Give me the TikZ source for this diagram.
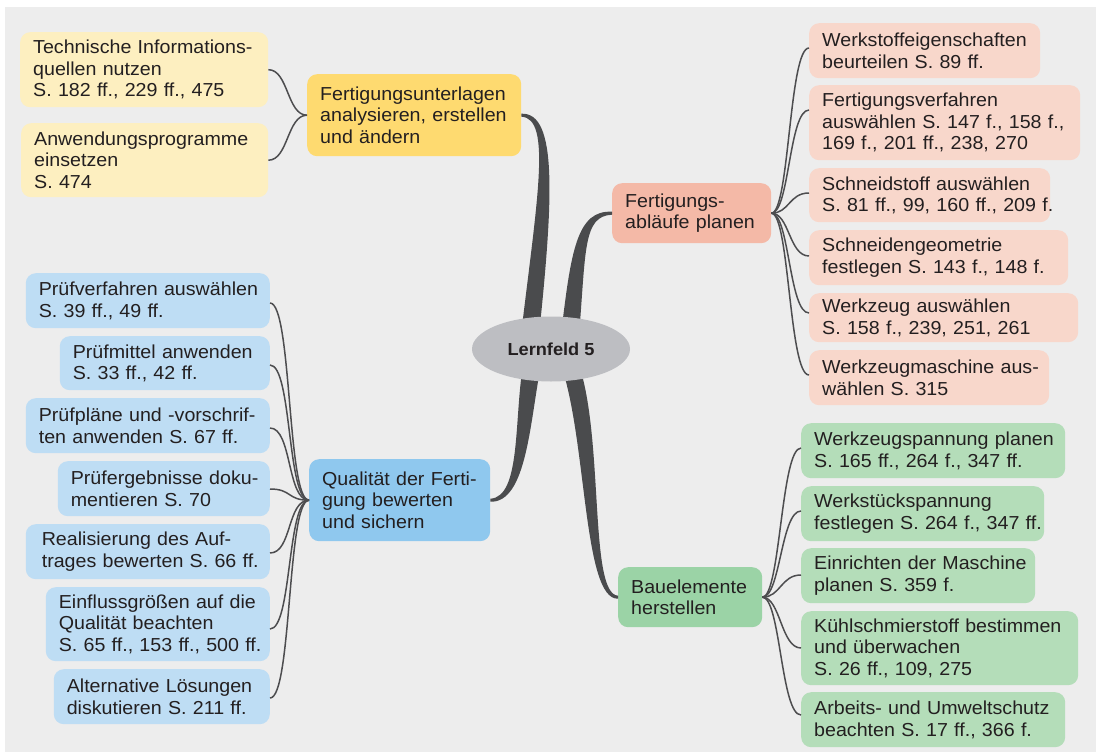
\documentclass[tikz,border=0pt]{standalone}
\usepackage{fontspec}
\setmainfont{Liberation Sans}[FakeStretch=1.045]
\usetikzlibrary{shapes.geometric}
\definecolor{bg}{HTML}{EDEDED}
\definecolor{txt}{HTML}{231F20}
\definecolor{con}{HTML}{4D4D4F}
\definecolor{br}{HTML}{4A4B4D}
\definecolor{ell}{HTML}{BDBEC2}
\definecolor{ylt}{HTML}{FDEFC0}
\definecolor{ymn}{HTML}{FEDA70}
\definecolor{plt}{HTML}{F8D7CB}
\definecolor{pmn}{HTML}{F4B9A7}
\definecolor{blt}{HTML}{BEDDF4}
\definecolor{bmn}{HTML}{8FC8EE}
\definecolor{glt}{HTML}{B4DDB9}
\definecolor{gmn}{HTML}{9BD3A6}
\begin{document}
\begin{tikzpicture}[x=1pt,y=-1pt,
  box/.style={rounded corners=10pt, align=left, inner xsep=13pt, inner ysep=0pt,
    text=txt, font=\fontsize{18.8}{21.5}\selectfont,
    execute at begin node={\hyphenpenalty=10000\exhyphenpenalty=10000}},
  conn/.style={draw=con, line width=1.5pt},
  branch/.style={fill=br}]
\useasboundingbox (0,0) rectangle (1096,755);
\fill[white] (0,0) rectangle (1096,755);
\fill[bg] (5,7) rectangle (1096,752);

% ---------- main nodes ----------
\node[box, fill=ymn, text width=188pt, minimum height=82pt, anchor=north west] (Y0) at (307,74)
  {Fertigungsunterlagen\\analysieren,~erstellen\\und~ändern};
\node[box, fill=pmn, text width=133pt, minimum height=60pt, anchor=north west] (P0) at (612,183)
  {Fertigungs-\\abläufe~planen};
\node[box, fill=bmn, text width=155pt, minimum height=82pt, anchor=north west] (B0) at (309,459)
  {Qualität~der~Ferti-\\gung~bewerten\\und~sichern};
\node[box, fill=gmn, text width=118pt, minimum height=60pt, anchor=north west] (G0) at (618,567)
  {Bauelemente\\herstellen};

% ---------- thick branches ----------
\fill[branch] (521,335) .. controls (537,200) and (552,118) .. ([yshift=-1.5pt]Y0.east)
  -- ([yshift=1.5pt]Y0.east) .. controls (558,112) and (553,200) .. (539,335) -- cycle;
\fill[branch] (561,335) .. controls (571,250) and (577,210) .. ([yshift=1.5pt]P0.west)
  -- ([yshift=-1.5pt]P0.west) .. controls (583,216) and (586,250) .. (579,335) -- cycle;
\fill[branch] (523,365) .. controls (514,420) and (521,497) .. ([yshift=1.5pt]B0.east)
  -- ([yshift=-1.5pt]B0.east) .. controls (527,503) and (530,420) .. (541,365) -- cycle;
\fill[branch] (561,365) .. controls (587,440) and (583,600) .. ([yshift=-1.5pt]G0.west)
  -- ([yshift=1.5pt]G0.west) .. controls (589,594) and (604,440) .. (579,365) -- cycle;

\node[ellipse, fill=ell, minimum width=158pt, minimum height=65pt, inner sep=0pt,
  text=txt, font=\fontsize{17.4}{20}\selectfont\bfseries] (L) at (551,349) {Lernfeld 5};

% ---------- yellow ----------
\node[box, fill=ylt, text width=222pt, minimum height=75pt, anchor=north west] (Y1) at (20,32)
  {Technische~Informations-\\quellen~nutzen\\S.~182~ff.,~229~ff.,~475};
\node[box, fill=ylt, text width=221pt, minimum height=74pt, anchor=north west] (Y2) at (21,123)
  {Anwendungsprogramme\\einsetzen\\S.~474};
\draw[conn] (Y0.west) .. controls +(-20,0) and +(20,0) .. (Y1.east);
\draw[conn] (Y0.west) .. controls +(-20,0) and +(20,0) .. (Y2.east);

% ---------- pink ----------
\node[box, fill=plt, text width=205pt, minimum height=55pt, anchor=north west] (P1) at (809,23)
  {Werkstoffeigenschaften\\beurteilen~S.~89~ff.};
\node[box, fill=plt, text width=245pt, minimum height=75pt, anchor=north west] (P2) at (809,85)
  {Fertigungsverfahren\\auswählen~S.~147~f.,~158~f.,\\169~f.,~201~ff.,~238,~270};
\node[box, fill=plt, text width=215pt, minimum height=54pt, anchor=north west] (P3) at (809,168)
  {Schneidstoff~auswählen\\S.~81~ff.,~99,~160~ff.,~209~f.};
\node[box, fill=plt, text width=233pt, minimum height=55pt, anchor=north west] (P4) at (809,230)
  {Schneidengeometrie\\festlegen~S.~143~f.,~148~f.};
\node[box, fill=plt, text width=243pt, minimum height=49pt, anchor=north west] (P5) at (809,293)
  {Werkzeug~auswählen\\S.~158~f.,~239,~251,~261};
\node[box, fill=plt, text width=214pt, minimum height=55pt, anchor=north west] (P6) at (809,350)
  {Werkzeugmaschine~aus-\\wählen~S.~315};
\draw[conn] (P0.east) .. controls +(18,0) and +(-20,0) .. ([yshift=-25pt]P1.north west);
\draw[conn] (P0.east) .. controls +(18,0) and +(-20,0) .. ([yshift=-25pt]P2.north west);
\draw[conn] (P0.east) .. controls +(18,0) and +(-20,0) .. ([yshift=-25pt]P3.north west);
\draw[conn] (P0.east) .. controls +(18,0) and +(-20,0) .. ([yshift=-26pt]P4.north west);
\draw[conn] (P0.east) .. controls +(18,0) and +(-20,0) .. ([yshift=-20pt]P5.north west);
\draw[conn] (P0.east) .. controls +(18,0) and +(-20,0) .. ([yshift=-25pt]P6.north west);

% ---------- blue ----------
\node[box, fill=blt, text width=218pt, minimum height=55pt, anchor=north east] (B1) at (270,273)
  {Prüfverfahren~auswählen\\S.~39~ff.,~49~ff.};
\node[box, fill=blt, text width=184pt, minimum height=54pt, anchor=north east] (B2) at (270,336)
  {Prüfmittel~anwenden\\S.~33~ff.,~42~ff.};
\node[box, fill=blt, text width=218pt, minimum height=55pt, anchor=north east] (B3) at (270,398)
  {Prüfpläne~und~-vorschrif-\\ten~anwenden~S.~67~ff.};
\node[box, fill=blt, text width=186pt, minimum height=55pt, anchor=north east] (B4) at (270,461)
  {Prüfergebnisse~doku-\\mentieren~S.~70};
\node[box, fill=blt, text width=212pt, minimum height=55pt, inner xsep=16pt, anchor=north east] (B5) at (270,524)
  {Realisierung~des~Auf-\\trages~bewerten~S.~66~ff.};
\node[box, fill=blt, text width=198pt, minimum height=74pt, anchor=north east] (B6) at (270,587)
  {Einflussgrößen~auf~die\\Qualität~beachten\\S.~65~ff.,~153~ff.,~500~ff.};
\node[box, fill=blt, text width=190pt, minimum height=55pt, anchor=north east] (B7) at (270,669)
  {Alternative~Lösungen\\diskutieren~S.~211~ff.};
\draw[conn] (B0.west) .. controls +(-22,0) and +(22,0) .. ([yshift=-30pt]B1.north east);
\draw[conn] (B0.west) .. controls +(-22,0) and +(22,0) .. ([yshift=-29pt]B2.north east);
\draw[conn] (B0.west) .. controls +(-22,0) and +(22,0) .. ([yshift=-30pt]B3.north east);
\draw[conn] (B0.west) .. controls +(-22,0) and +(22,0) .. ([yshift=-28pt]B4.north east);
\draw[conn] (B0.west) .. controls +(-22,0) and +(22,0) .. ([yshift=-29pt]B5.north east);
\draw[conn] (B0.west) .. controls +(-22,0) and +(22,0) .. ([yshift=-42pt]B6.north east);
\draw[conn] (B0.west) .. controls +(-22,0) and +(22,0) .. ([yshift=-29pt]B7.north east);

% ---------- green ----------
\node[box, fill=glt, text width=238pt, minimum height=55pt, anchor=north west] (G1) at (801,423)
  {Werkzeugspannung~planen\\S.~165~ff.,~264~f.,~347~ff.};
\node[box, fill=glt, text width=217pt, minimum height=55pt, anchor=north west] (G2) at (801,486)
  {Werkstückspannung\\festlegen~S.~264~f.,~347~ff.};
\node[box, fill=glt, text width=208pt, minimum height=55pt, anchor=north west] (G3) at (801,548)
  {Einrichten~der~Maschine\\planen~S.~359~f.};
\node[box, fill=glt, text width=251pt, minimum height=74pt, anchor=north west] (G4) at (801,611)
  {Kühlschmierstoff~bestimmen\\und~überwachen\\S.~26~ff.,~109,~275};
\node[box, fill=glt, text width=238pt, minimum height=55pt, anchor=north west] (G5) at (801,692)
  {Arbeits-~und~Umweltschutz\\beachten~S.~17~ff.,~366~f.};
\draw[conn] (G0.east) .. controls +(18,0) and +(-20,0) .. ([yshift=-25pt]G1.north west);
\draw[conn] (G0.east) .. controls +(18,0) and +(-20,0) .. ([yshift=-25pt]G2.north west);
\draw[conn] (G0.east) .. controls +(18,0) and +(-20,0) .. ([yshift=-27pt]G3.north west);
\draw[conn] (G0.east) .. controls +(18,0) and +(-20,0) .. ([yshift=-37pt]G4.north west);
\draw[conn] (G0.east) .. controls +(18,0) and +(-20,0) .. ([yshift=-23pt]G5.north west);
\end{tikzpicture}
\end{document}
